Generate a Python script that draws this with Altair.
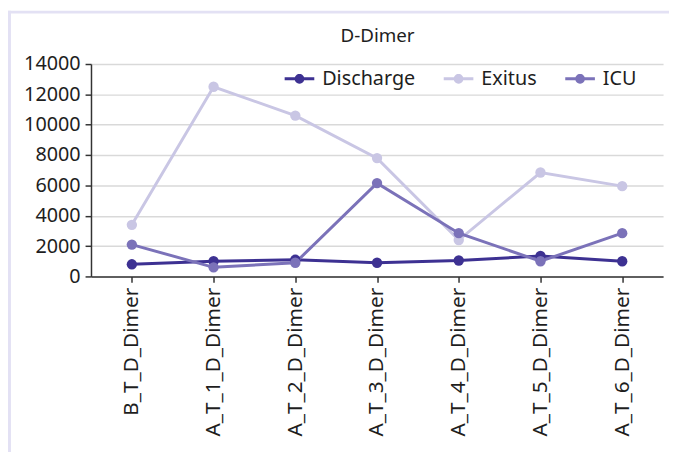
import math
import altair as alt
import pandas as pd

categories = ["B_T_D_Dimer", "A_T_1_D_Dimer", "A_T_2_D_Dimer", "A_T_3_D_Dimer",
              "A_T_4_D_Dimer", "A_T_5_D_Dimer", "A_T_6_D_Dimer"]
discharge = [800, 1000, 1100, 900, 1050, 1350, 1000]
exitus = [3400, 12500, 10600, 7800, 2400, 6850, 5950]
icu = [2100, 600, 900, 6150, 2850, 1000, 2850]
series_names = ["Discharge", "Exitus", "ICU"]
series_colors = ["#3d3192", "#c9c6e4", "#7b72b9"]
y_ticks = [0, 2000, 4000, 6000, 8000, 10000, 12000, 14000]
chart_title = "D-Dimer"

rows = []
for name, vals in zip(series_names, [discharge, exitus, icu]):
    for c, v in zip(categories, vals):
        rows.append({"cat": c, "series": name, "value": v})
df = pd.DataFrame(rows)

FONT = "Noto Sans"
TXT = "#1e1e1e"
# legend glyph: a short line with a dot in the middle (polygons only)
r = 0.33
dot = "".join(
    ("M" if k == 0 else "L")
    + f"{r * math.cos(2 * math.pi * k / 24):.3f},{r * math.sin(2 * math.pi * k / 24):.3f}"
    for k in range(24)) + "Z"
sym_path = "M-1,-0.1L1,-0.1L1,0.1L-1,0.1Z" + dot

color_legend = alt.Color(
    "series:N", scale=alt.Scale(domain=series_names, range=series_colors),
    legend=alt.Legend(
        title=None, orient="none", direction="horizontal",
        legendX=196, legendY=0,
        symbolType=sym_path, symbolSize=900,
        labelFont=FONT, labelFontSize=20, labelColor=TXT,
        labelOffset=8, columnPadding=28,
    ),
)

x = alt.X("cat:N", sort=categories, title=None,
          scale=alt.Scale(paddingInner=0, paddingOuter=0),
          axis=alt.Axis(labelAngle=-90, labelPadding=5, grid=False))
y = alt.Y("value:Q", title=None,
          scale=alt.Scale(domain=[0, 14000], nice=False),
          axis=alt.Axis(values=y_ticks, format="d", labelPadding=5))

base = alt.Chart(df)
line_layers = [
    base.transform_filter(alt.datum.series == name)
        .mark_line(strokeWidth=3, color=col)
        .encode(x=x, y=y)
    for name, col in zip(series_names, series_colors)
]
points = base.mark_circle(size=110, opacity=1).encode(x=x, y=y, color=color_legend)

frame_df = pd.DataFrame({"k": [0]})
left_border = alt.Chart(frame_df).mark_rule(color="#e3e1f4", strokeWidth=3).encode(
    x=alt.value(-82.5), y=alt.value(-54), y2=alt.value(400))
top_border = alt.Chart(frame_df).mark_rule(color="#e3e1f4", strokeWidth=3).encode(
    x=alt.value(-84), x2=alt.value(590), y=alt.value(-52.5))
title_text = alt.Chart(frame_df).mark_text(
    text=chart_title, font=FONT, fontSize=19, color=TXT,
    align="center", baseline="alphabetic").encode(
    x=alt.value(290), y=alt.value(-22))

chart = alt.layer(left_border, top_border, title_text, *line_layers, points).properties(
    width=579, height=215,
    autosize=alt.AutoSizeParams(type="none"),
    padding={"left": 84, "top": 54, "right": 6, "bottom": 175},
).configure_view(
    stroke=None
).configure_axis(
    labelFont=FONT, labelColor=TXT, tickSize=6, tickColor="#333333",
    domainColor="#333333", domainWidth=1.5, tickWidth=1.5,
    gridColor="#d9d9d9", gridWidth=1.5,
).configure_axisX(
    labelFontSize=21
).configure_axisY(
    labelFontSize=20
).configure_legend(
    padding=0, symbolStrokeWidth=0
)

chart.save("out.html", embed_options={"renderer": "svg", "actions": False})
